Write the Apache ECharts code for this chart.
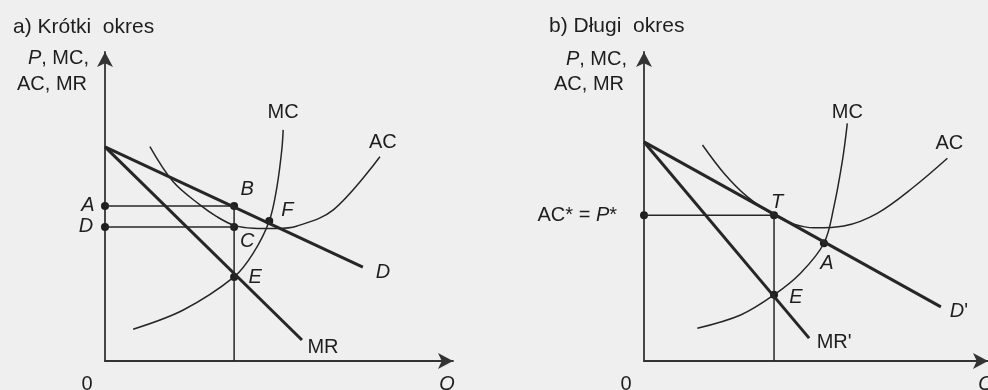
<!DOCTYPE html>
<html>
<head>
<meta charset="utf-8">
<script src="https://cdn.jsdelivr.net/npm/echarts@6/dist/echarts.min.js"></script>
<style>
  html, body { margin: 0; padding: 0; background: #efefef; }
  #chart { width: 988px; height: 390px; }
</style>
</head>
<body>
<div id="chart"></div>
<script>
// a) Krótki okres  -- [Q, P] in plain units
const demandShort = [[0, 69.3], [74.1, 30.4]]
const mrShort = [[0, 69.3], [56.6, 6.8]]
const mcShort = [[8.1, 10.3], [22.5, 16.5], [37.1, 27.2], [42.6, 34.9], [47.2, 45.3], [49.4, 56.3], [50.8, 68.3], [51.2, 74.8]]
const acShort = [[12.9, 69.4], [19.6, 58.0], [27.3, 50.5], [32.0, 46.8], [37.1, 43.9], [42.6, 43.0], [49.4, 42.9], [55.0, 43.6], [65.6, 48.9], [79.0, 66.1]]
const qShort = 37.1
const priceShort = 50.2   // A / B
const costShort = 43.4    // D / C
const mrAtQShort = 27.2   // E
const pointF = [47.2, 45.3]

// b) Długi okres
const demandLong = [[0, 70.9], [86.3, 17.5]]
const mrLong = [[0, 70.9], [48.0, 7.4]]
const mcLong = [[15.5, 10.6], [28.1, 14.9], [37.8, 21.4], [45.5, 28.4], [52.3, 38.1], [55.2, 49.9], [57.7, 65.0], [59.1, 76.9]]
const acLong = [[17.0, 69.9], [23.3, 60.7], [30.0, 53.2], [37.8, 47.2], [43.6, 44.3], [49.4, 43.1], [58.1, 43.7], [67.8, 47.8], [78.5, 56.4], [88.2, 65.6]]
const qLong = 37.8
const priceLong = 47.2    // AC* = P*, T
const mrAtQLong = 21.4    // E
const pointA = [52.3, 38.1]

const FONT = '"Liberation Sans", Arial, sans-serif'
const INK = '#1e1e1e'
const rich = {
  i: { fontStyle: 'italic', fontSize: 20, fontFamily: FONT, color: INK },
  n: { fontSize: 20, fontFamily: FONT, color: INK }
}

const chart = echarts.init(document.getElementById('chart'))

function axes() {
  return [0, 1].map(i => ({
    gridIndex: i,
    type: 'value',
    min: 0,
    max: 100,
    axisLine: {
      show: true, onZero: false,
      symbol: ['none', 'arrow'], symbolSize: [12, 15],
      lineStyle: { color: '#333', width: 1.8 }
    },
    axisTick: { show: false },
    axisLabel: { show: false },
    splitLine: { show: false }
  }))
}

function line(data, gi, width, smooth) {
  return {
    type: 'line', xAxisIndex: gi, yAxisIndex: gi, data: data,
    smooth: smooth ? 0.35 : false, symbol: 'none', silent: true,
    lineStyle: { color: '#262626', width: width }
  }
}

// each tag: anchor, text, offset from anchor, align
function tags(list, gi, size) {
  return {
    type: 'scatter', xAxisIndex: gi, yAxisIndex: gi, clip: false, silent: true,
    symbolSize: size, itemStyle: { color: INK, opacity: 1 },
    data: list.map(t => ({
      value: t[0],
      label: {
        show: true, position: 'inside', formatter: t[1], offset: t[2],
        align: t[3] || 'center', verticalAlign: 'middle',
        fontSize: 20, fontFamily: FONT, color: INK,
        textBorderWidth: 0, rich: rich
      }
    }))
  }
}

const last = a => a[a.length - 1]

const series = [
  // a)
  line([[0, priceShort], [qShort, priceShort]], 0, 1.5),
  line([[0, costShort], [qShort, costShort]], 0, 1.5),
  line([[qShort, priceShort], [qShort, 0]], 0, 1.5),
  line(mcShort, 0, 1.5, true),
  line(acShort, 0, 1.5, true),
  line(demandShort, 0, 3),
  line(mrShort, 0, 3),
  tags([
    [[0, priceShort], '{i|A}', [-17, 0]],
    [[0, costShort], '{i|D}', [-19, 0]],
    [[qShort, priceShort], '{i|B}', [13, -16]],
    [[qShort, costShort], '{i|C}', [13, 15]],
    [[qShort, mrAtQShort], '{i|E}', [21, 0]],
    [pointF, '{i|F}', [18, -11]]
  ], 0, 8),
  tags([
    [last(mcShort), '{n|MC}', [0, -17]],
    [last(acShort), '{n|AC}', [3, -14]],
    [last(demandShort), '{i|D}', [20, 5]],
    [last(mrShort), '{n|MR}', [21, 7]]
  ], 0, 0),
  // b)
  line([[0, priceLong], [qLong, priceLong]], 1, 1.5),
  line([[qLong, priceLong], [qLong, 0]], 1, 1.5),
  line(mcLong, 1, 1.5, true),
  line(acLong, 1, 1.5, true),
  line(demandLong, 1, 3),
  line(mrLong, 1, 3),
  tags([
    [[0, priceLong], '{n|AC* = }{i|P}{n|*}', [-27, 0], 'right'],
    [[qLong, priceLong], '{i|T}', [3, -13]],
    [[qLong, mrAtQLong], '{i|E}', [22, 3]],
    [pointA, '{i|A}', [3, 20]]
  ], 1, 8),
  tags([
    [last(mcLong), '{n|MC}', [0, -11]],
    [last(acLong), '{n|AC}', [2, -15]],
    [last(demandLong), "{i|D}{n|'}", [18, 5]],
    [last(mrLong), "{n|MR'}", [25, 4]]
  ], 1, 0)
]

function text(x, y, str, align, size) {
  return {
    type: 'text', x: x, y: y, silent: true,
    style: {
      text: str, fill: INK, font: (size || 20) + 'px ' + FONT,
      align: align, verticalAlign: 'middle', rich: rich
    }
  }
}

chart.setOption({
  animation: false,
  backgroundColor: '#efefef',
  grid: [
    { left: 105, top: 52, width: 348, height: 309 },
    { left: 644, top: 52, width: 344, height: 309 }
  ],
  xAxis: axes(),
  yAxis: axes(),
  series: series,
  graphic: [
    text(13, 27, 'a) Krótki  okres', 'left', 21),
    text(549, 26, 'b) Długi  okres', 'left', 21),
    text(89, 58, '{i|P}, MC,', 'right'),
    text(87, 84, 'AC, MR', 'right'),
    text(627, 59, '{i|P}, MC,', 'right'),
    text(624, 84, 'AC, MR', 'right'),
    text(87, 384, '0', 'center'),
    text(447, 384, '{i|Q}', 'center'),
    text(626, 384, '0', 'center'),
    text(986, 384, '{i|Q}', 'center')
  ]
})
</script>
</body>
</html>
